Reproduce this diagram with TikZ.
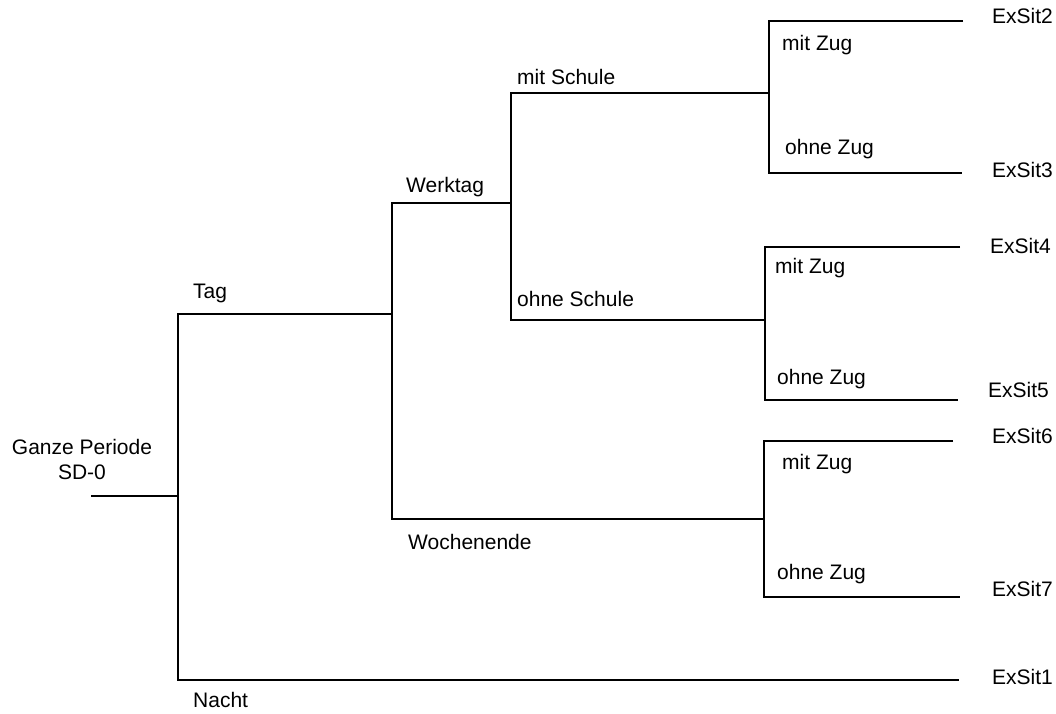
\documentclass[tikz,border=0pt]{standalone}
\usepackage{fontspec}
\setmainfont{Liberation Sans}
\begin{document}
\begin{tikzpicture}[x=1pt,y=-1pt,
  branch/.style={line width=2pt,black},
  lbl/.style={inner sep=0pt,anchor=west,font=\fontsize{21}{25}\selectfont,
    text height=0.69em,text depth=0pt},
  ctr/.style={lbl,anchor=center}]
\useasboundingbox (0,0) rectangle (1056,713);

% junction points of the tree
\coordinate (r0) at (91,496);   \coordinate (j0) at (178,496);
\coordinate (t0) at (178,314);  \coordinate (t1) at (392,314);
\coordinate (n0) at (178,680);  \coordinate (n1) at (959,680);
\coordinate (w0) at (392,203);  \coordinate (w1) at (511,203);
\coordinate (we0) at (392,519); \coordinate (we1) at (765,519);
\coordinate (ms0) at (511,93);  \coordinate (ms1) at (769,93);
\coordinate (os0) at (511,320); \coordinate (os1) at (765,320);
\coordinate (e2a) at (769,21);  \coordinate (e2b) at (963,21);
\coordinate (e3a) at (769,173); \coordinate (e3b) at (962,173);
\coordinate (e4a) at (765,247); \coordinate (e4b) at (960,247);
\coordinate (e5a) at (765,400); \coordinate (e5b) at (958,400);
\coordinate (e6a) at (764,441); \coordinate (e6b) at (953,441);
\coordinate (e7a) at (764,597); \coordinate (e7b) at (960,597);

% branches
\draw[branch] (r0) -- (j0);
\draw[branch] (t1) -- (t0) -- (n0) -- (n1);
\draw[branch] (w1) -- (w0) -- (we0) -- (we1);
\draw[branch] (ms1) -- (ms0) -- (os0) -- (os1);
\draw[branch] (e2b) -- (e2a) -- (e3a) -- (e3b);
\draw[branch] (e4b) -- (e4a) -- (e5a) -- (e5b);
\draw[branch] (e6b) -- (e6a) -- (e7a) -- (e7b);

% labels
\node[ctr] (gp) at (82,451) {Ganze Periode};
\node[ctr] (sd) at (82,476) {SD-0};
\node[lbl] (tag) at (193,295) {Tag};
\node[lbl] (nacht) at (193,704) {Nacht};
\node[lbl] (werktag) at (406,189) {Werktag};
\node[lbl] (wochenende) at (408,546) {Wochenende};
\node[lbl] (mitschule) at (517,81) {mit Schule};
\node[lbl] (ohneschule) at (517,303) {ohne Schule};
\node[lbl] (mz1) at (782,47) {mit Zug};
\node[lbl] (oz1) at (785,151) {ohne Zug};
\node[lbl] (mz2) at (775,270) {mit Zug};
\node[lbl] (oz2) at (777,381) {ohne Zug};
\node[lbl] (mz3) at (782,466) {mit Zug};
\node[lbl] (oz3) at (777,576) {ohne Zug};
\node[lbl] (x2) at (992,20) {ExSit2};
\node[lbl] (x3) at (992,174) {ExSit3};
\node[lbl] (x4) at (990,250) {ExSit4};
\node[lbl] (x5) at (988,394) {ExSit5};
\node[lbl] (x6) at (992,440) {ExSit6};
\node[lbl] (x7) at (992,593) {ExSit7};
\node[lbl] (x1) at (992,681) {ExSit1};
\end{tikzpicture}
\end{document}
